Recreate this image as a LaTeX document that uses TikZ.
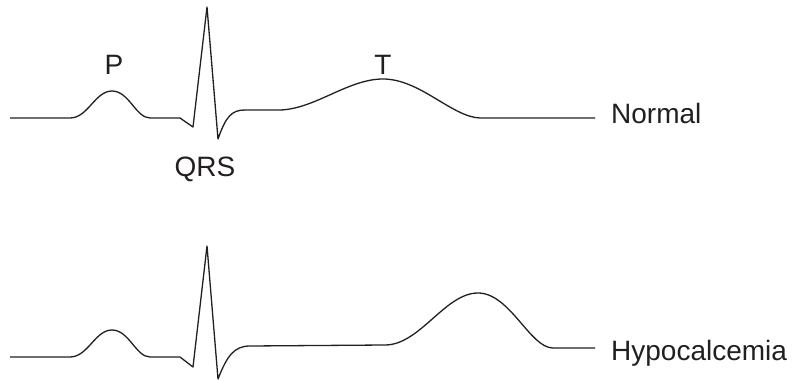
\documentclass[tikz,border=0pt]{standalone}
\usepackage{fontspec}
\setmainfont{Liberation Sans}
\definecolor{ink}{HTML}{231F20}
\begin{document}
\begin{tikzpicture}[x=1pt,y=-1pt,
  trace/.style={draw=ink,line width=1.3pt,line join=round},
  lbl/.style={text=ink,font=\fontsize{28}{34}\selectfont,inner sep=0pt,anchor=base}]
\useasboundingbox (0,0) rectangle (796,380);
% Normal
\draw[trace] (10,118) -- (70,118)
  .. controls (88,118) and (95,91) .. (112,91)
  .. controls (129,91) and (136,118) .. (150,118)
  -- (180,118) -- (193,127) -- (207,7) -- (218,139)
  .. controls (226,116) and (232,110) .. (245,110)
  -- (280,110)
  .. controls (315,109) and (348,79) .. (383,79)
  .. controls (420,79) and (452,117) .. (480,118)
  -- (595,118);
\node[lbl] (p) at (114,74) {P};
\node[lbl] (t) at (383,74) {T};
\node[lbl] (qrs) at (205,176) {QRS};
\node[lbl,anchor=base west] (normal) at (611,123) {Normal};
% Hypocalcemia
\draw[trace] (10,357) -- (70,357)
  .. controls (88,357) and (95,330) .. (112,330)
  .. controls (129,330) and (136,357) .. (150,357)
  -- (180,357) -- (193,367) -- (207,246) -- (218,379)
  .. controls (227,356) and (234,346) .. (250,346)
  -- (385,345)
  .. controls (420,345) and (445,293) .. (478,293)
  .. controls (510,293) and (530,348) .. (553,348)
  -- (595,348);
\node[lbl,anchor=base west] (hypo) at (611,360) {Hypocalcemia};
\end{tikzpicture}
\end{document}
